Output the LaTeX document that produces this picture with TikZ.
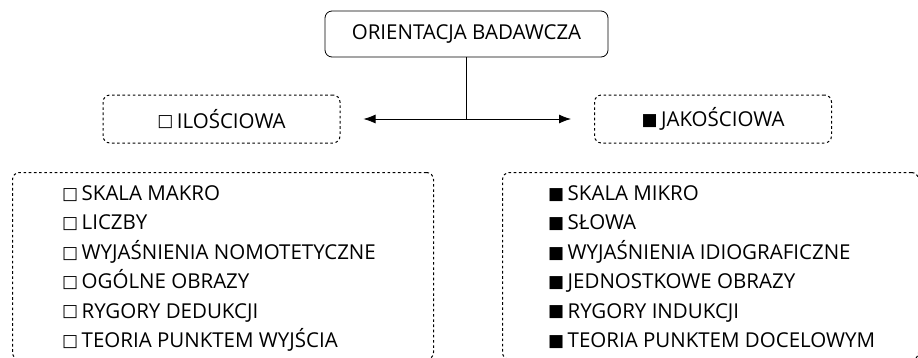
\documentclass[tikz,border=0pt]{standalone}
\usepackage{fontspec}
\setmainfont{Open Sans}
\newfontfamily\symfont{DejaVu Sans}
\usetikzlibrary{arrows.meta}
\newcommand{\wsq}{\raisebox{1.2pt}{\symfont\fontsize{17}{17}\selectfont □}\,}
\newcommand{\bsq}{\raisebox{1.2pt}{\symfont\fontsize{17}{17}\selectfont ■}\,}
\tikzset{gbox/.style={
    rectangle,
    draw,
    line width=0.8pt,
    rounded corners=7pt,
    align=center,
    font=\fontsize{20.5}{24}\selectfont
  },
  rbox/.style={gbox,minimum width=283pt,minimum height=46pt},
  dbox/.style={gbox,dash pattern=on 2.6pt off 2.6pt,line width=1pt,
    minimum width=237pt,minimum height=48pt},
  lbox/.style={dbox,minimum height=187pt,anchor=north west},
  ltext/.style={align=left,inner sep=0pt,anchor=base west,
    font=\fontsize{20.5}{29.4}\selectfont},
}

\begin{document}
\begin{tikzpicture}[x=1pt,y=-1pt]
  \useasboundingbox (0,0) rectangle (918,357);
  \node [rbox] (orient) at (466.5,34) {ORIENTACJA BADAWCZA};
  \node [dbox] (ilosc) at (221.5,119) {\wsq ILOŚCIOWA};
  \node [dbox] (jakosc) at (713,119) {\bsq JAKOŚCIOWA};
  % list boxes (base = last line)
  \node [lbox,minimum width=421pt] (ilosclist) at (12,172) {};
  \node [lbox,minimum width=416pt] (jakosclist) at (502,172) {};
  \node [ltext] (ilosctext) at (62,347.5) {
    \wsq SKALA MAKRO\\
    \wsq LICZBY\\
    \wsq WYJAŚNIENIA NOMOTETYCZNE\\
    \wsq OGÓLNE OBRAZY\\
    \wsq RYGORY DEDUKCJI\\
    \wsq TEORIA PUNKTEM WYJŚCIA};
  \node [ltext] (jakosctext) at (548,347.5) {
    \bsq SKALA MIKRO\\
    \bsq SŁOWA\\
    \bsq WYJAŚNIENIA IDIOGRAFICZNE\\
    \bsq JEDNOSTKOWE OBRAZY\\
    \bsq RYGORY INDUKCJI\\
    \bsq TEORIA PUNKTEM DOCELOWYM};
  \coordinate (split) at (orient.south |- ilosc.east);
  \draw[line width=0.8pt] (orient.south) -- (split);
  \draw[line width=0.8pt,{Latex[length=12pt,width=9pt]}-{Latex[length=12pt,width=9pt]},
    shorten <=23pt,shorten >=23pt] (ilosc.east) -- (jakosc.west);
\end{tikzpicture}
\end{document}
